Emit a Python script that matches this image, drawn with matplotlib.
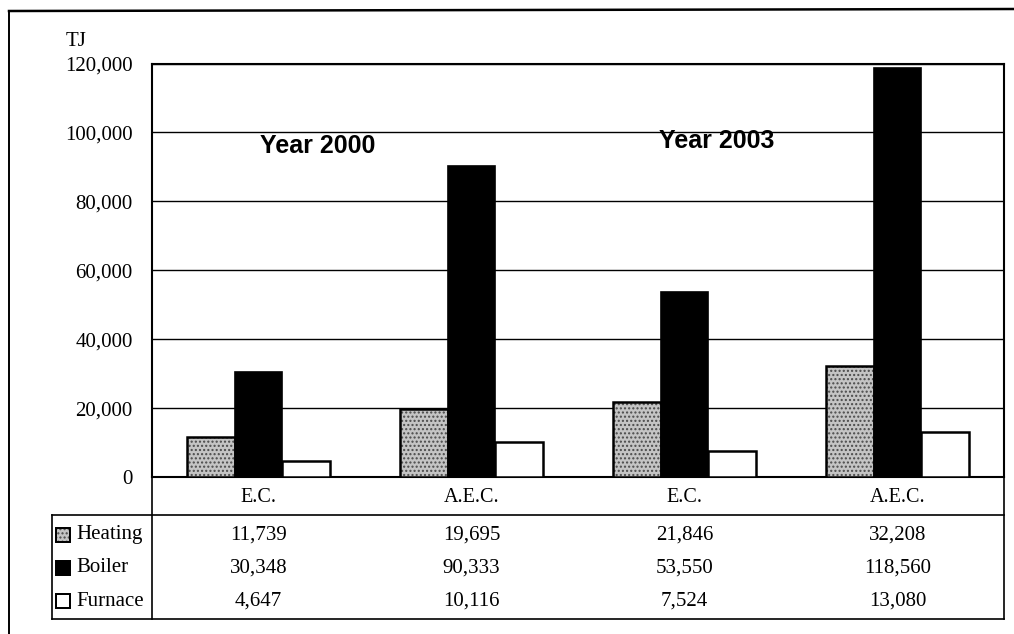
import matplotlib.pyplot as plt
import matplotlib.transforms as mtransforms
from matplotlib.lines import Line2D
from matplotlib.patches import Rectangle
import numpy as np

### --- data
categories = ["E.C.", "A.E.C.", "E.C.", "A.E.C."]
heating = [11739, 19695, 21846, 32208]
boiler = [30348, 90333, 53550, 118560]
furnace = [4647, 10116, 7524, 13080]
series_names = ["Heating", "Boiler", "Furnace"]
y_ticks = [0, 20000, 40000, 60000, 80000, 100000, 120000]

serif = ["Liberation Serif", "DejaVu Serif"]
sans = ["Liberation Sans", "DejaVu Sans"]

W, H = 1014, 634
fig = plt.figure(figsize=(W / 100, H / 100), dpi=100)

def fx(px):
    return px / W

def fy(py):
    return 1 - py / H

ax_l, ax_r, ax_t, ax_b = 152, 1004, 63.5, 477
ax = fig.add_axes([fx(ax_l), fy(ax_b), fx(ax_r - ax_l), (ax_b - ax_t) / H])

x = np.arange(len(categories))
w = 0.225
stipple = dict(facecolor="#c4c4c4", edgecolor="#4a4a4a", hatch="....")

# heating: stippled grey fill + black outline
ax.bar(x - w, heating, w, linewidth=0, zorder=3, **stipple)
ax.bar(x - w, heating, w, facecolor="none", edgecolor="black", linewidth=1.8, zorder=4)
ax.bar(x, boiler, w, color="black", edgecolor="black", linewidth=1.2, zorder=3)
ax.bar(x + w, furnace, w, color="white", edgecolor="black", linewidth=1.8, zorder=3)

ax.set_xlim(-0.5, len(categories) - 0.5)
ax.set_ylim(0, 120000)
ax.set_yticks(y_ticks)
ax.set_yticklabels(["{:,}".format(v) for v in y_ticks], fontfamily=serif, fontsize=15)
ax.tick_params(axis="y", length=0, pad=14)
ax.set_xticks([])
ax.yaxis.grid(True, color="black", linewidth=1.0, zorder=0)
ax.set_axisbelow(True)
for s in ax.spines.values():
    s.set_linewidth(1.5)
    s.set_color("black")

ax.text(0.28, 96000, "Year 2000", fontfamily=sans, fontweight="bold", fontsize=18,
        ha="center", va="center", zorder=5)
ax.text(2.15, 97500, "Year 2003", fontfamily=sans, fontweight="bold", fontsize=18,
        ha="center", va="center", zorder=5)

fig.text(fx(76), fy(41), "TJ", fontfamily=serif, fontsize=15, ha="center", va="center")

### --- data table under the plot
trans = mtransforms.blended_transform_factory(ax.transData, fig.transFigure)
for i, c in enumerate(categories):
    ax.text(i, fy(497), c, transform=trans, fontfamily=serif, fontsize=14.5,
            ha="center", va="center")

row_y = [535, 568, 601]
rows = [heating, boiler, furnace]
for ry, vals in zip(row_y, rows):
    for i, v in enumerate(vals):
        ax.text(i, fy(ry), "{:,}".format(v), transform=trans, fontfamily=serif,
                fontsize=15, ha="center", va="center")

# row labels with legend keys
key_style = [
    stipple,
    dict(facecolor="black", edgecolor="black"),
    dict(facecolor="white", edgecolor="black"),
]
for ry, name, st in zip(row_y, series_names, key_style):
    fig.patches.append(Rectangle((fx(56), fy(ry + 7)), fx(14), 14 / H, transform=fig.transFigure,
                                 linewidth=1.2, **st))
    fig.patches.append(Rectangle((fx(56), fy(ry + 7)), fx(14), 14 / H, transform=fig.transFigure,
                                 facecolor="none", edgecolor="black", linewidth=1.4))
    fig.text(fx(76), fy(ry), name, fontfamily=serif, fontsize=15, ha="left", va="center")

def fig_line(xs, ys, lw=1.2):
    fig.add_artist(Line2D([fx(v) for v in xs], [fy(v) for v in ys], color="black",
                          linewidth=lw, transform=fig.transFigure))

fig_line([52, ax_r], [515, 515])
fig_line([52, ax_r], [619, 619])
fig_line([52, 52], [515, 619])
fig_line([ax_l, ax_l], [ax_b, 619])
fig_line([ax_r, ax_r], [ax_b, 619])

# outer frame of the scanned figure
fig_line([9, 9], [11, 634], lw=1.4)
fig_line([9, 1014], [11, 9], lw=1.8)

fig.savefig("out.png", dpi=100)
